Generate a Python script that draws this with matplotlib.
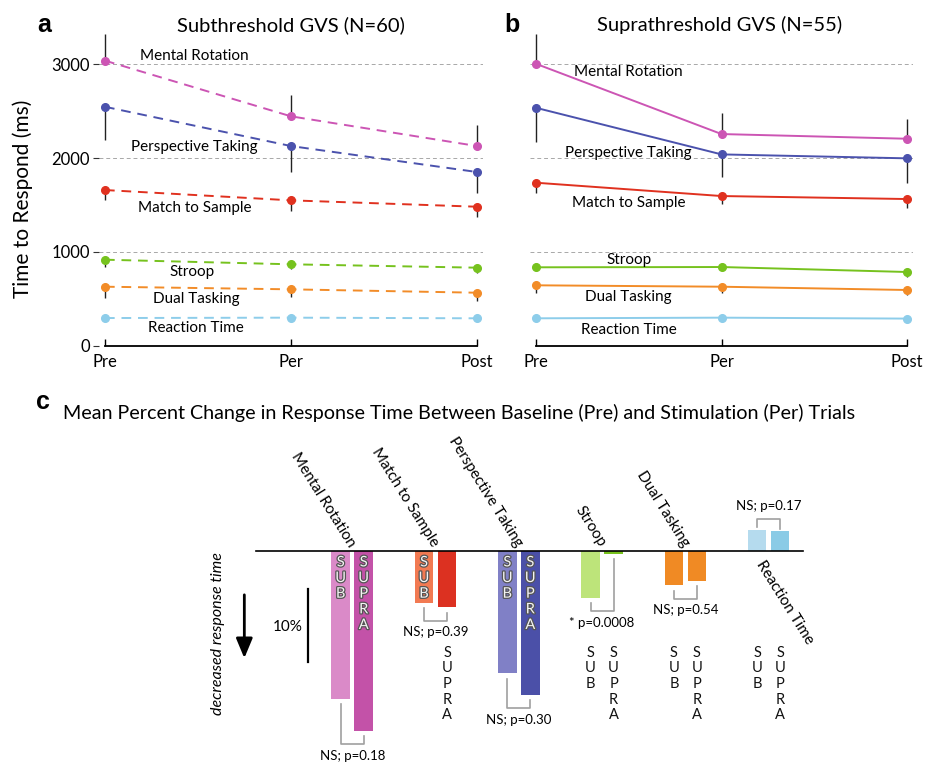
import numpy as np
import matplotlib
matplotlib.use("Agg")
import matplotlib.pyplot as plt
import matplotlib.patheffects as pe

plt.rcParams['font.family'] = ['Lato', 'DejaVu Sans']

# ---- data ----
tasks = ['Mental Rotation', 'Perspective Taking', 'Match to Sample',
         'Stroop', 'Dual Tasking', 'Reaction Time']
phases = ['Pre', 'Per', 'Post']
line_colors = ['#cc55b4', '#4b52ad', '#e0311f', '#76c21e', '#f28c28', '#8dcdea']

# subthreshold (panel a), ms
sub_means = [[3040, 2446, 2129],
             [2548, 2129, 1852],
             [1660, 1550, 1482],
             [917, 868, 832],
             [629, 601, 565],
             [295, 299, 292]]
sub_err_lo = [[0, 0, 0], [355, 274, 226], [107, 111, 107],
              [75, 54, 60], [117, 79, 88], [0, 0, 0]]
sub_err_hi = [[280, 227, 224], [0, 0, 0], [0, 0, 0],
              [0, 0, 0], [0, 0, 0], [0, 0, 0]]

# suprathreshold (panel b), ms
supra_means = [[3006, 2257, 2207],
               [2537, 2040, 1998],
               [1738, 1596, 1564],
               [836, 839, 786],
               [644, 629, 594],
               [292, 299, 289]]
supra_err_lo = [[0, 0, 0], [362, 238, 267], [113, 85, 99],
                [0, 0, 50], [79, 64, 54], [0, 0, 0]]
supra_err_hi = [[314, 221, 213], [0, 0, 0], [0, 0, 0],
                [42, 46, 0], [0, 0, 0], [0, 0, 0]]

# panel c: percent change Pre -> Per
c_tasks = ['Mental Rotation', 'Match to Sample', 'Perspective Taking',
           'Stroop', 'Dual Tasking', 'Reaction Time']
pct_sub = [-20.2, -7.1, -16.7, -6.4, -4.7, 2.9]
pct_supra = [-24.5, -7.7, -19.6, -0.4, -4.1, 2.7]
p_labels = ['NS; p=0.18', 'NS; p=0.39', 'NS; p=0.30', '* p=0.0008',
            'NS; p=0.54', 'NS; p=0.17']
sub_colors = ['#da8ac8', '#f27a52', '#8080c6', '#bde47a', '#f08a24', '#b5dbee']
supra_colors = ['#c352a8', '#dc3121', '#4b50a8', '#78c21e', '#f08a24', '#8acbe6']
# letters drawn inside bar (True) or below the axis (False)
sub_inside = [True, True, True, False, False, False]
supra_inside = [True, False, True, False, False, False]

# label positions in panels a/b (x, y in data units)
lab_a = [(0.48, 3093), (0.48, 2119), (0.48, 1468), (0.47, 786), (0.49, 498), (0.49, 189)]
lab_b = [(0.50, 2919), (0.50, 2055), (0.50, 1522), (0.50, 914), (0.50, 519), (0.50, 167)]

fig = plt.figure(figsize=(9.34, 7.66), dpi=100)

ax_a = fig.add_axes([0.1064, 0.5487, 0.4103, 0.4101])
ax_b = fig.add_axes([0.5679, 0.5487, 0.4092, 0.4101])

x = np.arange(3)


def draw_panel(ax, means, lo, hi, labs, ls):
    for v in (1000, 2000, 3000):
        ax.axhline(v, color='#a8a8a8', lw=0.7, ls=(0, (4, 3)), zorder=0)
    for i, t in enumerate(tasks):
        ax.errorbar(x, means[i], yerr=[lo[i], hi[i]], fmt='none', ecolor='#222222',
                    elinewidth=1.0, capsize=0, clip_on=False, zorder=2)
        ax.plot(x, means[i], color=line_colors[i], lw=1.4, ls=ls, marker='o',
                ms=5.5, clip_on=False, zorder=3)
        ax.text(labs[i][0], labs[i][1], t, ha='center', va='center', fontsize=11)
    ax.set_xlim(-0.03, 2.03)
    ax.set_ylim(0, 3350)
    for s in ('top', 'right', 'left'):
        ax.spines[s].set_visible(False)
    ax.spines['bottom'].set_bounds(0, 2)
    ax.spines['bottom'].set_linewidth(1.3)
    ax.set_xticks(x)
    ax.set_xticklabels(phases, fontsize=12)
    ax.tick_params(axis='x', direction='in', length=5, width=1.0, pad=6)


draw_panel(ax_a, sub_means, sub_err_lo, sub_err_hi, lab_a, (0, (5, 3.5)))
draw_panel(ax_b, supra_means, supra_err_lo, supra_err_hi, lab_b, '-')

ax_a.set_yticks([0, 1000, 2000, 3000])
ax_a.tick_params(axis='y', direction='out', length=4, width=0.8, pad=3, labelsize=12,
                 color='#333333')
ax_a.set_ylabel('Time to Respond (ms)', fontsize=15)
ax_a.yaxis.set_label_coords(-0.172, 0.467)
ax_b.set_yticks([])

fig.text(290.7 / 934, 1 - 25 / 766, 'Subthreshold GVS (N=60)', fontsize=14.5,
         ha='center', va='center')
fig.text(720 / 934, 1 - 25 / 766, 'Suprathreshold GVS (N=55)', fontsize=14.5,
         ha='center', va='center')
fig.text(44 / 934, 1 - 25 / 766, 'a', fontsize=18, fontweight='bold',
         ha='center', va='center', family='Liberation Sans')
fig.text(512 / 934, 1 - 25 / 766, 'b', fontsize=18, fontweight='bold',
         ha='center', va='center', family='Liberation Sans')

# ---- panel c ----
fig.text(43 / 934, 1 - 402 / 766, 'c', fontsize=18, fontweight='bold',
         ha='center', va='center', family='Liberation Sans')
fig.text(63 / 934, 1 - 413 / 766,
         'Mean Percent Change in Response Time Between Baseline (Pre) and Stimulation (Per) Trials',
         fontsize=14.2, ha='left', va='center')

ax_c = fig.add_axes([0, 0, 1, 0.4386])
ax_c.set_xlim(-4.228, 6.984)
ax_c.set_ylim(-29.33, 16.5)
ax_c.axis('off')

g = np.arange(len(c_tasks))
off, w = 0.138, 0.222
ax_c.bar(g - off, pct_sub, width=w, color=sub_colors, zorder=2)
ax_c.bar(g + off, pct_supra, width=w, color=supra_colors, zorder=2)
ax_c.plot([-1.155, 5.41], [0, 0], color='black', lw=1.2, zorder=3)

outline = [pe.withStroke(linewidth=1.8, foreground='#555555')]
for i, t in enumerate(c_tasks):
    # category label
    if pct_sub[i] > 0:
        ax_c.text(i - 0.044, -0.95, t, rotation=-58, rotation_mode='anchor',
                  ha='left', va='top', fontsize=11)
    else:
        ax_c.text(i - 0.04, 0.45, t, rotation=-58, rotation_mode='anchor',
                  ha='right', va='baseline', fontsize=11)
    # SUB / SUPRA letters
    for xc, word, inside in ((i - off, 'SUB', sub_inside[i]),
                             (i + off, 'SUPRA', supra_inside[i])):
        if inside:
            ax_c.text(xc, -0.6, '\n'.join(word), ha='center', va='top', fontsize=10.5,
                      color='#f4f4f4', linespacing=1.15, path_effects=outline, zorder=4)
        else:
            ax_c.text(xc, -12.9, '\n'.join(word), ha='center', va='top', fontsize=10.5,
                      color='#111111', linespacing=1.15)
    # significance bracket
    a, b = pct_sub[i], pct_supra[i]
    if a > 0:
        top = max(a, b) + 1.5
        ax_c.plot([i - off, i - off, i + off, i + off], [a + 0.35, top, top, b + 0.35],
                  color='#a0a0a0', lw=1.2)
        ax_c.text(i, top + 1.7, p_labels[i], ha='center', va='center', fontsize=9.5)
    else:
        bot = min(a, b) - 1.8
        ax_c.plot([i - off, i - off, i + off, i + off], [a - 0.7, bot, bot, b - 0.7],
                  color='#a0a0a0', lw=1.2)
        ax_c.text(i, bot - 1.6, p_labels[i], ha='center', va='center', fontsize=9.5)

# scale bar and arrow
ax_c.plot([-0.527, -0.527], [-5.2, -15.2], color='black', lw=1.6)
ax_c.text(-0.6, -10.4, '10%', ha='right', va='center', fontsize=11)
ax_c.annotate('', xy=(-1.295, -15.0), xytext=(-1.295, -5.6),
              arrowprops=dict(arrowstyle='-|>,head_length=0.6,head_width=0.25',
                              color='black', lw=2, mutation_scale=20))
ax_c.text(-1.607, -11.2, 'decreased response time', rotation=90, ha='center',
          va='center', fontsize=11.5, style='italic')

fig.savefig('out.png', dpi=100)
